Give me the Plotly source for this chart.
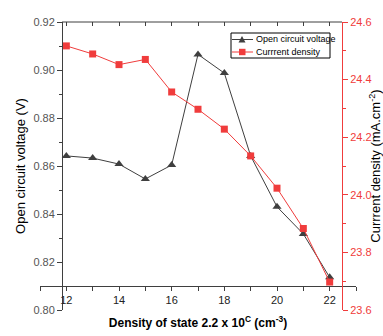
import plotly.graph_objects as go

# Density of state (x 2.2e?) values along the x axis
density = [12, 13, 14, 15, 16, 17, 18, 19, 20, 21, 22]
# Open circuit voltage (V)
voc = [0.8642, 0.8633, 0.8608, 0.8546, 0.8604, 0.9065, 0.8987, 0.8642, 0.8430, 0.8317, 0.8136]
# Current density (mA/cm^2)
jsc = [24.517, 24.489, 24.452, 24.470, 24.357, 24.297, 24.228, 24.135, 24.023, 23.883, 23.697]

series_names = ["Open circuit voltage", "Currrent density"]

x_ticks = list(range(11, 24))
x_labels = [str(v) if v % 2 == 0 and 12 <= v <= 22 else "" for v in x_ticks]

W, H = 383, 336
ML, MR, MT, MB = 40, 27, 22, 26
plot_w = W - ML - MR
plot_h = H - MT - MB


def px(xpix):
    return (xpix - ML) / plot_w


def py(ypix):
    return (H - MB - ypix) / plot_h


left_pos = px(62)
right_pos = px(342)
xaxis_pos = py(286)

DARK = "#3f3f3f"
RED = "#f03c3c"
FONT = "Liberation Sans, Arial, sans-serif"

fig = go.Figure()
fig.add_trace(go.Scatter(
    x=density, y=voc, name=series_names[0], mode="lines+markers",
    line=dict(color=DARK, width=1),
    marker=dict(symbol="triangle-up", size=8, color=DARK),
    yaxis="y", showlegend=False,
))
fig.add_trace(go.Scatter(
    x=density, y=jsc, name=series_names[1], mode="lines+markers",
    line=dict(color=RED, width=1),
    marker=dict(symbol="square", size=7, color=RED),
    yaxis="y2", showlegend=False,
))
# empty trace so the top tick axis gets drawn
fig.add_trace(go.Scatter(x=[], y=[], xaxis="x2", showlegend=False, hoverinfo="skip"))

# compact boxed key in the upper right of the plot
shapes = [
    dict(type="line", xref="paper", yref="paper",
         x0=left_pos, x1=right_pos, y0=1, y1=1,
         line=dict(color=DARK, width=1)),
    dict(type="rect", xref="paper", yref="paper",
         x0=px(231), x1=px(330), y0=py(33), y1=py(58),
         line=dict(color="black", width=1), fillcolor="white", layer="above"),
]
annotations = []
key_rows = [(39.5, DARK, "tri"), (52.0, RED, "sq")]
for (row_y, col, kind), name in zip(key_rows, series_names):
    shapes.append(dict(type="line", xref="paper", yref="paper",
                       x0=px(232), x1=px(253), y0=py(row_y), y1=py(row_y),
                       line=dict(color=col, width=1), layer="above"))
    if kind == "tri":
        path = "M {},{} L {},{} L {},{} Z".format(
            px(238.5), py(row_y + 3), px(245.5), py(row_y + 3), px(242), py(row_y - 3.5))
        shapes.append(dict(type="path", xref="paper", yref="paper", path=path,
                           fillcolor=col, line=dict(color=col, width=0), layer="above"))
    else:
        shapes.append(dict(type="rect", xref="paper", yref="paper",
                           x0=px(239), x1=px(245.5), y0=py(row_y + 3.2), y1=py(row_y - 3.2),
                           fillcolor=col, line=dict(color=col, width=0), layer="above"))
    annotations.append(dict(xref="paper", yref="paper", x=px(254), y=py(row_y),
                            xanchor="left", yanchor="middle", showarrow=False,
                            text=name, font=dict(size=9, color="black")))

fig.update_layout(
    width=W, height=H,
    margin=dict(l=ML, r=MR, t=MT, b=MB, autoexpand=False),
    paper_bgcolor="white", plot_bgcolor="white",
    font=dict(family=FONT, size=11, color="black"),
    showlegend=False,
    xaxis=dict(
        range=[11, 23], anchor="free", position=xaxis_pos, automargin=False,
        showgrid=False, zeroline=False,
        showline=True, linecolor=DARK, linewidth=1,
        ticks="outside", ticklen=4, tickcolor=DARK,
        tickvals=x_ticks, ticktext=x_labels,
        tickfont=dict(size=11, color="#222"),
        title=dict(
            text="<b>Density of state 2.2 x 10<sup>C</sup> (cm<sup>-3</sup>)</b>",
            font=dict(size=12, color="black"), standoff=13,
        ),
    ),
    xaxis2=dict(
        range=[11, 23], overlaying="x", side="top", anchor="y", automargin=False,
        showgrid=False, zeroline=False, showline=False,
        ticks="inside", ticklen=4, tickcolor=DARK,
        tickvals=list(range(12, 23)), showticklabels=False,
    ),
    yaxis=dict(
        range=[0.80, 0.92], anchor="free", position=left_pos, automargin=False,
        showgrid=False, zeroline=False,
        showline=True, linecolor=DARK, linewidth=1,
        ticks="outside", ticklen=5, tickcolor=DARK,
        dtick=0.02, tick0=0.80, tickformat=".2f",
        minor=dict(ticks="outside", ticklen=3, dtick=0.01, tickcolor=DARK),
        tickfont=dict(size=11, color="#555"),
        title=dict(text="Open circuit voltage (V)", font=dict(size=13, color="black"), standoff=3),
    ),
    yaxis2=dict(
        range=[23.6, 24.6], overlaying="y", side="right", anchor="free", position=right_pos,
        automargin=False,
        showgrid=False, zeroline=False,
        showline=True, linecolor=RED, linewidth=1,
        ticks="outside", ticklen=5, tickcolor=RED,
        dtick=0.2, tick0=23.6, tickformat=".1f",
        minor=dict(ticks="outside", ticklen=3, dtick=0.1, tickcolor=RED),
        tickfont=dict(size=11, color=RED),
        title=dict(text="Currrent density (mA.cm<sup>-2</sup>)", font=dict(size=13, color="black"), standoff=9),
    ),
    shapes=shapes,
    annotations=annotations,
)

fig.write_html("out.html")
